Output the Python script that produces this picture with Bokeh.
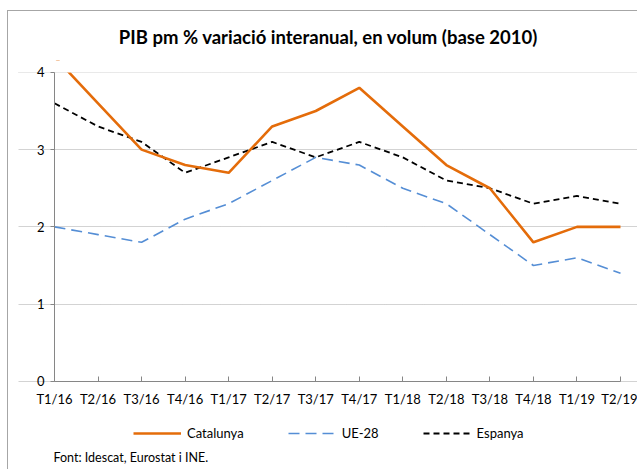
from bokeh.plotting import figure
from bokeh.models import FixedTicker, Legend, LegendItem, Label, BoxAnnotation
from bokeh.embed import file_html
from bokeh.resources import INLINE

quarters = ["T1/16", "T2/16", "T3/16", "T4/16", "T1/17", "T2/17", "T3/17",
            "T4/17", "T1/18", "T2/18", "T3/18", "T4/18", "T1/19", "T2/19"]
catalunya = [4.2, 3.6, 3.0, 2.8, 2.7, 3.3, 3.5, 3.8, 3.3, 2.8, 2.5, 1.8, 2.0, 2.0]
ue28 = [2.0, 1.9, 1.8, 2.1, 2.3, 2.6, 2.9, 2.8, 2.5, 2.3, 1.9, 1.5, 1.6, 1.4]
espanya = [3.6, 3.3, 3.1, 2.7, 2.9, 3.1, 2.9, 3.1, 2.9, 2.6, 2.5, 2.3, 2.4, 2.3]
y_ticks = [0, 1, 2, 3, 4]

title_text = "PIB pm % variació interanual, en volum (base 2010)"
source_text = "Font: Idescat, Eurostat i INE."

FONT = "Lato"
xs = list(range(len(quarters)))
x_last = len(quarters) - 1

# layout (pixels)
W, H = 630, 459
FRAME_TOP = 45
TOP_PAD = 12
FRAME_LEFT = 10
FRAME_H = H - FRAME_TOP
PX_PER_UNIT_Y = 78
PLOT_LEFT, PLOT_RIGHT = 46, 612          # data x=0 and x=last, canvas px
PX_PER_UNIT_X = (PLOT_RIGHT - PLOT_LEFT) / x_last
Y_MAX = 4
y_top = Y_MAX + TOP_PAD / PX_PER_UNIT_Y
y_min = y_top - FRAME_H / PX_PER_UNIT_Y
x_min = -(PLOT_LEFT - FRAME_LEFT) / PX_PER_UNIT_X
x_max = x_last + (W - PLOT_RIGHT) / PX_PER_UNIT_X

p = figure(width=W, height=H, output_backend="svg", toolbar_location=None,
           x_range=(x_min, x_max), y_range=(y_min, y_top),
           min_border_left=FRAME_LEFT, min_border_right=0, min_border_top=FRAME_TOP,
           min_border_bottom=0)
p.styles = {"margin-left": "7px", "margin-top": "10px",
            "border-left": "1px solid #a6a6a6", "border-top": "1px solid #a6a6a6"}
p.outline_line_color = None
p.background_fill_color = "white"
p.border_fill_color = "white"

# title
p.title.text = title_text
p.title.align = "center"
p.title.offset = 8
p.title.text_font = FONT
p.title.text_font_size = "18.5px"
p.title.text_font_style = "bold"
p.title.text_color = "#000000"
p.title.standoff = 25

# axes
p.xaxis.ticker = FixedTicker(ticks=xs)
p.xaxis.major_label_overrides = {i: q for i, q in enumerate(quarters)}
p.xaxis.fixed_location = 0
p.xaxis.bounds = (0, x_last)
p.yaxis.ticker = FixedTicker(ticks=y_ticks)
p.yaxis.fixed_location = 0
p.yaxis.bounds = (0, Y_MAX)
for ax in (p.xaxis[0], p.yaxis[0]):
    ax.axis_line_color = "#868686"
    ax.major_tick_line_color = "#868686"
    ax.minor_tick_line_color = None
    ax.major_label_text_font = FONT
    ax.major_label_text_font_size = "13px"
    ax.major_label_text_color = "#000000"
p.xaxis.major_tick_in = 5
p.xaxis.major_tick_out = 0
p.xaxis.major_label_standoff = 10
p.yaxis.major_tick_in = 0
p.yaxis.major_tick_out = 4
p.yaxis.major_label_standoff = 6

p.xgrid.grid_line_color = None
p.ygrid.grid_line_color = "#a6a6a6"
p.ygrid.grid_line_dash = "1 1"
p.ygrid.grid_line_width = 1
p.ygrid.bounds = (0, x_last)

r_ue = p.line(xs, ue28, line_color="#558ED5", line_width=1.6, line_dash="11 6")
r_es = p.line(xs, espanya, line_color="#000000", line_width=1.8, line_dash="6 4")
r_cat = p.line(xs, catalunya, line_color="#E46C0A", line_width=2.6)

# the value axis ends at 4: mask the part of the lines above it
p.add_layout(BoxAnnotation(bottom=Y_MAX, fill_color="white", fill_alpha=1.0,
                           line_color=None, level="glyph"))

legend = Legend(items=[LegendItem(label="Catalunya", renderers=[r_cat]),
                       LegendItem(label="UE-28", renderers=[r_ue]),
                       LegendItem(label="Espanya", renderers=[r_es])],
                location=(115, 29), orientation="horizontal",
                padding=0, margin=0, spacing=44, label_standoff=6,
                glyph_width=48, glyph_height=16, label_height=16,
                border_line_color=None, background_fill_alpha=0,
                label_text_font=FONT, label_text_font_size="13px",
                label_text_color="#000000")
p.add_layout(legend, "center")

p.add_layout(Label(x=35, y=13, x_units="screen", y_units="screen", text=source_text,
                   text_align="left", text_baseline="middle", text_font=FONT,
                   text_font_size="12.5px", text_color="#000000"))

open("out.html", "w").write(file_html(p, INLINE))
